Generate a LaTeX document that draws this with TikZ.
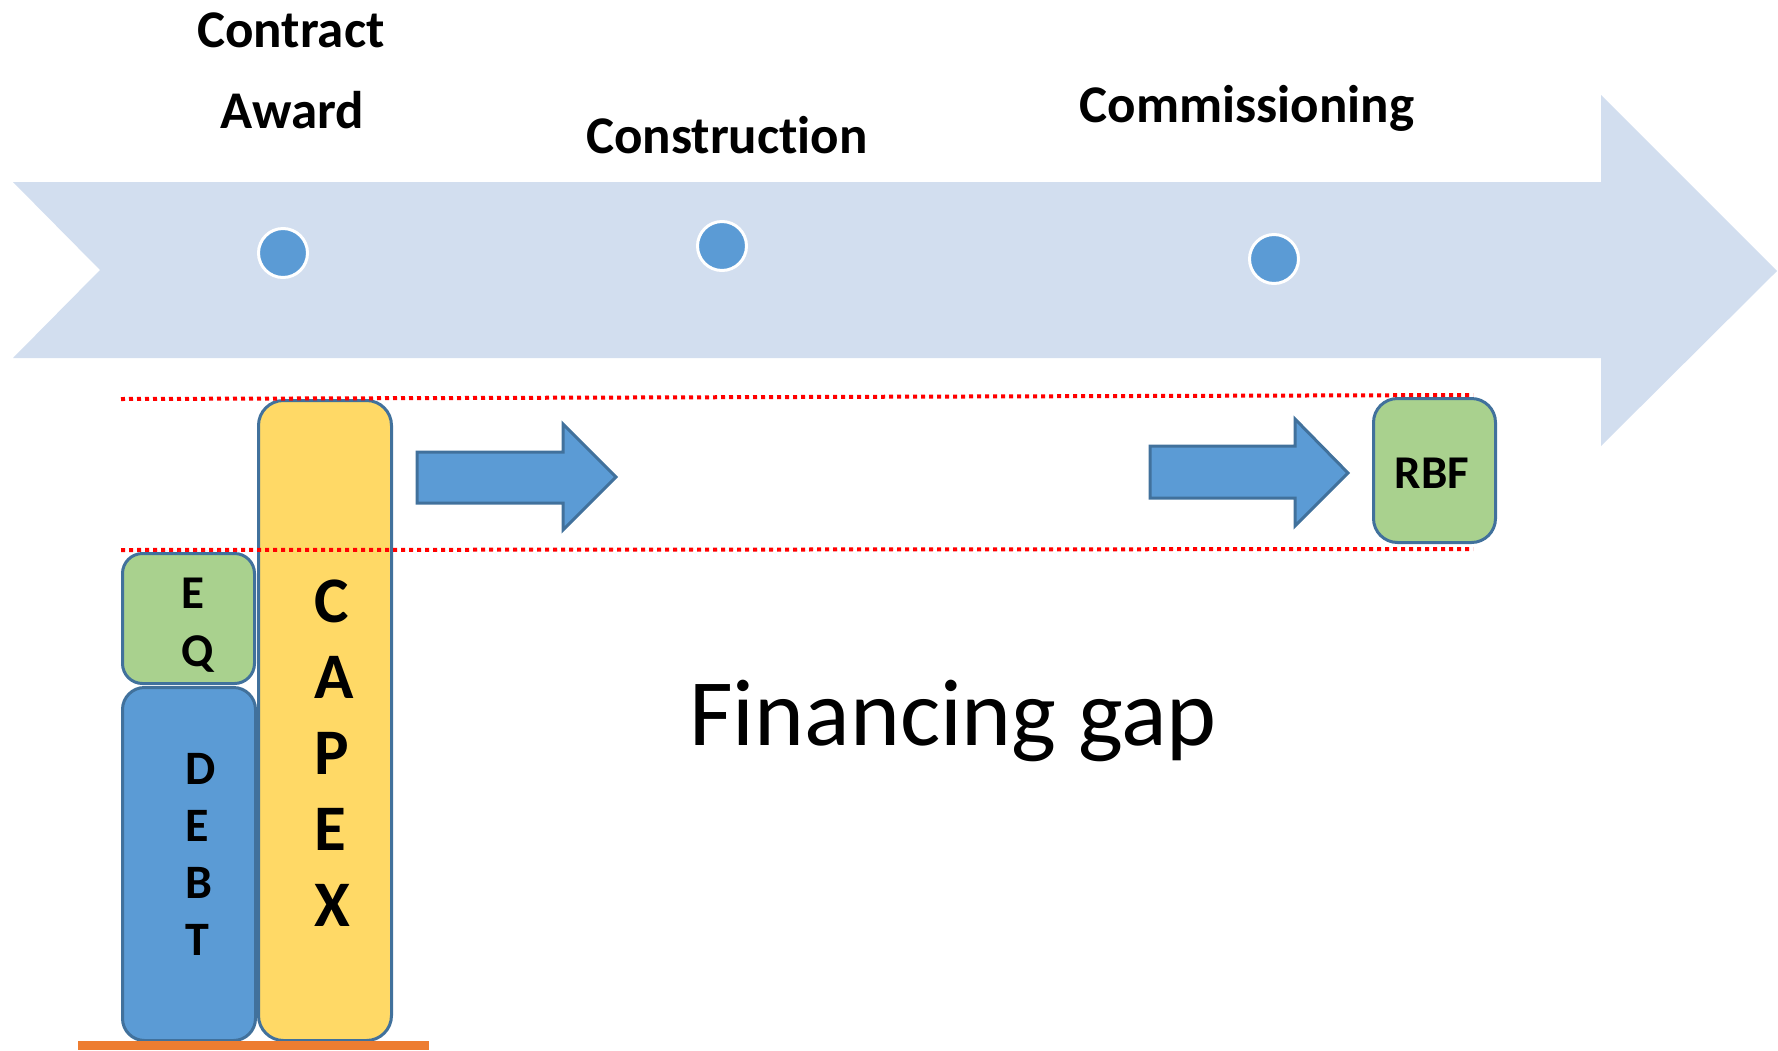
\documentclass[tikz,border=0pt]{standalone}
\usepackage{fontspec}
\setmainfont{Carlito}[Ligatures=NoCommon]
\definecolor{bigarrow}{HTML}{D2DEEF}
\definecolor{dotblue}{HTML}{5B9BD5}
\definecolor{edgeblue}{HTML}{41719C}
\definecolor{eqgreen}{HTML}{A9D18E}
\definecolor{capexyellow}{HTML}{FFD966}
\definecolor{barorange}{HTML}{ED7D31}
\begin{document}
\begin{tikzpicture}[x=1pt,y=-1pt,
  milestone/.style={font=\fontsize{53}{64}\selectfont\bfseries, inner sep=0pt, anchor=base},
  dot/.style={circle, fill=dotblue, draw=white, line width=3pt, minimum size=49pt, inner sep=0pt},
  block/.style={draw=edgeblue, line width=3pt, inner sep=0pt},
  letters/.style={inner sep=0pt, align=left, anchor=north west, font=\bfseries},
  blockarrow/.style={fill=dotblue, draw=edgeblue, line width=3pt, line join=miter},
  gapline/.style={draw=red, line width=4pt, dash pattern=on 4pt off 4pt}
]
\useasboundingbox (0,0) rectangle (1778,1050);
% big timeline arrow
\fill[bigarrow] (13,182) -- (1601,182) -- (1601,95) -- (1777,271) -- (1601,446)
  -- (1601,358) -- (13,358) -- (100,270) -- cycle;
% milestones
\node[dot] (m1) at (283,253) {};
\node[dot] (m2) at (722,246) {};
\node[dot] (m3) at (1274,259) {};
\node[milestone] (t1a) at (291,47) {Contract};
\node[milestone] (t1b) at (292,128) {Award};
\node[milestone] (t2) at (727,153) {Construction};
\node[milestone] (t3) at (1247,122) {Commissioning};
% stacked boxes
\node[block, fill=dotblue, rounded corners=22pt, minimum width=133pt, minimum height=353pt] (debt) at (189,864) {};
\node[block, fill=eqgreen, rounded corners=20pt, minimum width=132pt, minimum height=130pt] (eq) at (188.5,618.5) {};
\node[block, fill=capexyellow, rounded corners=25pt, minimum width=133pt, minimum height=640pt] (capex) at (325,720.5) {};
\node[block, fill=eqgreen, rounded corners=24pt, minimum width=122pt, minimum height=144pt] (rbf) at (1434.5,470.5) {};
\node[letters, font=\fontsize{47}{58}\selectfont\bfseries] (eqt) at (181,578) {E\\Q};
\node[letters, font=\fontsize{48}{57}\selectfont\bfseries] (debtt) at (185,753) {D\\E\\B\\T};
\node[letters, font=\fontsize{65}{76}\selectfont\bfseries] (capext) at (314,580) {C\\A\\P\\E\\X};
\node[inner sep=0pt, anchor=base, font=\fontsize{47}{56}\selectfont\bfseries] (rbft) at (1432,488) {RBF};
% block arrows
\draw[blockarrow] (417,452) -- (563,452) -- (563,424) -- (616,477) -- (563,530) -- (563,503) -- (417,503) -- cycle;
\draw[blockarrow] (1150,446) -- (1295,446) -- (1295,419) -- (1348,473) -- (1295,526) -- (1295,498) -- (1150,498) -- cycle;
% dotted gap lines
\draw[gapline] (121,399) -- (1473,395);
\draw[gapline] (121,550) -- (1473,549);
% orange base
\fill[barorange] (78,1041) rectangle (429,1050);
% label
\node[inner sep=0pt, anchor=base, font=\fontsize{95}{114}\selectfont] (gap) at (953,745) {Financing gap};
\end{tikzpicture}
\end{document}
